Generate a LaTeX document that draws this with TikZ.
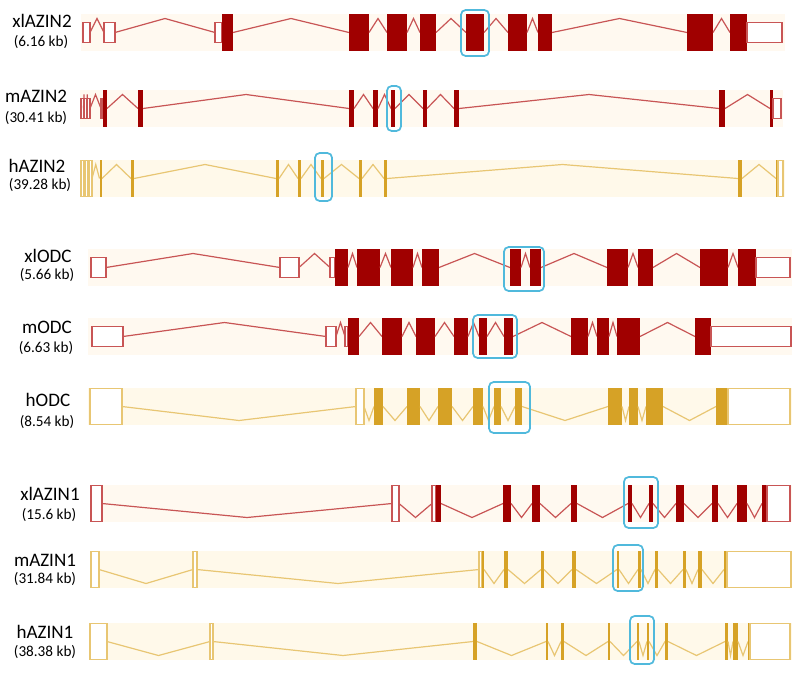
\documentclass[tikz,border=0pt]{standalone}
\usepackage{fontspec}
\setmainfont{Carlito}
\usetikzlibrary{positioning}
\definecolor{exonred}{RGB}{160,0,0}
\definecolor{linered}{RGB}{200,85,85}
\definecolor{exongold}{RGB}{214,162,38}
\definecolor{linegold}{RGB}{232,198,115}
\definecolor{bandred}{RGB}{255,249,240}
\definecolor{bandgold}{RGB}{255,249,234}
\definecolor{boxblue}{RGB}{80,185,220}

\tikzset{
        genename/.style={font=\fontsize{14.3}{16}\selectfont, inner sep=0pt},
        genesize/.style={font=\fontsize{11.4}{13}\selectfont, inner sep=0pt},
        hilite/.style={draw=boxblue, line width=1.3pt, rounded corners=3.5pt},
}

% #1 top of the row, #2 apex offset (+ up, - down), #3 exon colour, #4 line colour, #5 kind/start/end
\newcommand{\generow}[5]{
        \pgfmathsetmacro{\rowmid}{#1+18.5}
        \pgfmathsetmacro{\rowapex}{#1+18.5-#2}
        \foreach \kind/\a/\b [remember=\b as \prev (initially 9999)] in {#5}{
                \ifdim \a pt > \prev pt
                        \draw[#4, line width=0.9pt] (\prev,\rowmid) -- ({(\prev+\a)/2},\rowapex) -- (\a,\rowmid);
                \fi
                \if e\kind
                        \fill[#3] (\a,#1) rectangle (\b,#1+37);
                \fi
                \if u\kind
                        \draw[#4, fill=white, line width=1pt] (\a,\rowmid-10) rectangle (\b,\rowmid+10);
                \fi
                \if U\kind
                        \draw[#4, fill=white, line width=1pt] (\a,#1+0.5) rectangle (\b,#1+36.5);
                \fi
        }
}

\begin{document}
\begin{tikzpicture}[x=0.75pt, y=-0.75pt]
        \useasboundingbox (0,0) rectangle (798,675);

        % AZIN2
        \fill[bandred] (81,14) rectangle (785,51);
        \generow{14}{14}{exonred}{linered}{u/83/90, u/104/115, u/215/222, e/222/233, e/349/369, e/387/407, e/420/436, e/466/484, e/508/527, e/538/552, e/687/713, e/730/747, u/747/782}
        \draw[hilite] (461,10) rectangle (489,56);

        \fill[bandred] (80,90) rectangle (783,127);
        \generow{90}{14}{exonred}{linered}{u/81/83.5, u/84.5/87, u/87.5/90, u/101/103, e/103/107, e/138/143, e/349/354, e/373/378, e/391/395, e/423/427, e/454/459, e/719/725, e/770/773, u/773/781}
        \draw[hilite] (387,86) rectangle (401,131);

        \fill[bandgold] (80,160) rectangle (785,197);
        \generow{160}{14}{exongold}{linegold}{U/81/84, U/85/88, U/89/92, e/99.5/102, e/131/134, e/276/279, e/298/301, e/321/324, e/359/362, e/384/387, e/738/742, e/776/778, U/778/783}
        \draw[hilite] (315,153) rectangle (332,201);

        % ODC
        \fill[bandred] (88,249) rectangle (792,286);
        \generow{249}{14}{exonred}{linered}{u/91/106, u/280/299, u/330/335, e/335/348, e/357/380, e/391/413, e/422/439, e/510/521, e/530/541, e/607/628, e/638/653, e/700/728, e/738/756, u/756/790}
        \draw[hilite] (504,247) rectangle (544,291);

        \fill[bandred] (88,318) rectangle (792,355);
        \generow{318}{14}{exonred}{linered}{u/92/123, u/326/336, u/345/348, e/348/359, e/382/402, e/416/435, e/454/468, e/479/487, e/504/513, e/571/588, e/597/609, e/617/640, e/695/711, u/711/791}
        \draw[hilite] (473,315) rectangle (517,358);

        \fill[bandgold] (88,388) rectangle (792,425);
        \generow{388}{-14}{exongold}{linegold}{U/90/122, U/356/364, e/374/383, e/407/420, e/438/452, e/473/483, e/494/501, e/515/522, e/608/622, e/629/638, e/646/663, e/716/728, U/728/790}
        \draw[hilite] (489,382) rectangle (530,433);

        % AZIN1
        \fill[bandred] (90,485) rectangle (792,522);
        \generow{485}{-14}{exonred}{linered}{U/91/102, U/392/399, U/432/436, e/436/441, e/503/511, e/532/540, e/571/577, e/628/632, e/649/653, e/676/684, e/712/718, e/737/747, e/762/767, U/767/790}
        \draw[hilite] (624,477) rectangle (658,528);

        \fill[bandgold] (90,551) rectangle (792,588);
        \generow{551}{-14}{exongold}{linegold}{U/91/99, U/193/197, U/479/482, e/482/484, e/504/508, e/541/544, e/572/576, e/617/619, e/638/641, e/655/658, e/683/686, e/698/702, e/724/727, U/727/791}
        \draw[hilite] (613,545) rectangle (643,591);

        \fill[bandgold] (90,623) rectangle (792,660);
        \generow{623}{-14}{exongold}{linegold}{U/90/107, U/210/213, e/473/477, e/546/548, e/561/564, e/608/610, e/637/639, e/647/649, e/665/668, e/725/728, e/733/738, e/748/750, U/750/790}
        \draw[hilite] (630,616) rectangle (654,664);

        % labels
        \node[genename] (xlazin2) at (42,21) {xlAZIN2};
        \node[genesize] (xlazin2kb) at (41,42) {(6.16 kb)};
        \node[genename] (mazin2) at (36,96) {mAZIN2};
        \node[genesize] (mazin2kb) at (36,118) {(30.41 kb)};
        \node[genename] (hazin2) at (37,166) {hAZIN2};
        \node[genesize] (hazin2kb) at (40,185) {(39.28 kb)};

        \node[genename] (xlodc) at (48,256) {xlODC};
        \node[genesize] (xlodckb) at (47,275) {(5.66 kb)};
        \node[genename] (modc) at (47,327) {mODC};
        \node[genesize] (modckb) at (46,348) {(6.63 kb)};
        \node[genename] (hodc) at (48,400) {hODC};
        \node[genesize] (hodckb) at (47,422) {(8.54 kb)};

        \node[genename] (xlazin1) at (50,494) {xlAZIN1};
        \node[genesize] (xlazin1kb) at (49,515) {(15.6 kb)};
        \node[genename] (mazin1) at (45,560) {mAZIN1};
        \node[genesize] (mazin1kb) at (45,579) {(31.84 kb)};
        \node[genename] (hazin1) at (45,632) {hAZIN1};
        \node[genesize] (hazin1kb) at (45,652) {(38.38 kb)};
\end{tikzpicture}
\end{document}
